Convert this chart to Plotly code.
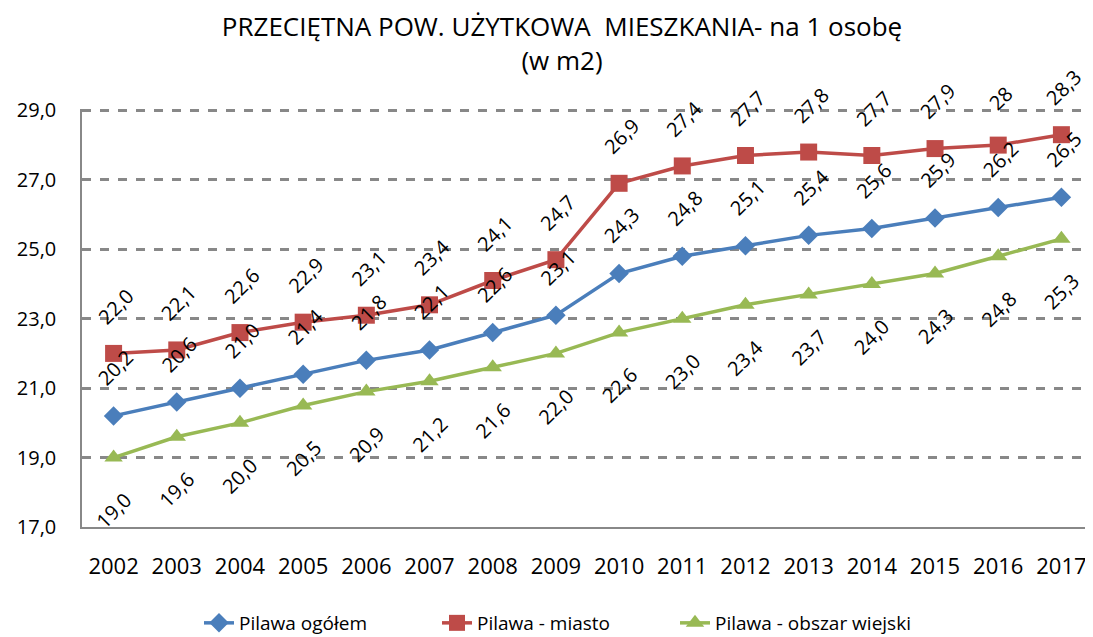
import plotly.graph_objects as go

years = list(range(2002, 2018))
ogolem = [20.2, 20.6, 21.0, 21.4, 21.8, 22.1, 22.6, 23.1, 24.3, 24.8, 25.1, 25.4, 25.6, 25.9, 26.2, 26.5]
miasto = [22.0, 22.1, 22.6, 22.9, 23.1, 23.4, 24.1, 24.7, 26.9, 27.4, 27.7, 27.8, 27.7, 27.9, 28.0, 28.3]
wiejski = [19.0, 19.6, 20.0, 20.5, 20.9, 21.2, 21.6, 22.0, 22.6, 23.0, 23.4, 23.7, 24.0, 24.3, 24.8, 25.3]
miasto_labels = ["22,0", "22,1", "22,6", "22,9", "23,1", "23,4", "24,1", "24,7", "26,9", "27,4", "27,7", "27,8", "27,7", "27,9", "28", "28,3"]
y_ticks = [17, 19, 21, 23, 25, 27, 29]

names = ["Pilawa ogółem", "Pilawa - miasto", "Pilawa - obszar wiejski"]
colors = ["#4a7ebb", "#be4b48", "#98b954"]
symbols = ["diamond", "square", "triangle-up"]
sizes = [15, 17, 16]
series = [ogolem, miasto, wiejski]

FONT = "Open Sans, DejaVu Sans, sans-serif"
W, H = 1085, 629  # page body has an 8px margin inside the 1093x637 window

fig = go.Figure()
for vals, name, col, sym, sz in zip(series, names, colors, symbols, sizes):
    fig.add_trace(go.Scatter(
        x=years, y=vals, name=name, mode="lines+markers",
        line=dict(color=col, width=3.5),
        marker=dict(symbol=sym, size=sz, color=col),
    ))

def fmt(v):
    return f"{v:.1f}".replace(".", ",")

annotations = []
label_font = dict(family=FONT, size=20, color="#000000")
for x, v, t in zip(years, miasto, miasto_labels):
    annotations.append(dict(x=x, y=v, xref="x", yref="y", text=t, showarrow=False,
                            textangle=-45, xshift=2, yshift=47, font=label_font))
for x, v in zip(years, ogolem):
    annotations.append(dict(x=x, y=v, xref="x", yref="y", text=fmt(v), showarrow=False,
                            textangle=-45, xshift=2, yshift=48, font=label_font))
for x, v in zip(years, wiejski):
    annotations.append(dict(x=x, y=v, xref="x", yref="y", text=fmt(v), showarrow=False,
                            textangle=-45, xshift=0, yshift=-53, font=label_font))

fig.update_layout(
    width=W, height=H,
    margin=dict(l=74, r=0, t=101, b=110, autoexpand=False),
    plot_bgcolor="white", paper_bgcolor="white",
    separators=", ",
    font=dict(family=FONT, color="#000000"),
    title=dict(text="PRZECIĘTNA POW. UŻYTKOWA  MIESZKANIA- na 1 osobę<br>(w m2)",
               x=554 / W, xanchor="center", y=1 - 28 / H, yanchor="top",
               font=dict(size=26, color="#000000")),
    xaxis=dict(range=[2001.5, 2017.5], tickmode="array", tickvals=years,
               ticktext=[str(y) for y in years], showgrid=False,
               showline=True, linecolor="#888888", linewidth=1.5,
               ticks="", ticklabelstandoff=19, tickfont=dict(size=22), fixedrange=True),
    yaxis=dict(range=[17, 29.04], tickmode="array", tickvals=y_ticks,
               tickformat=".1f",
               showgrid=True, gridcolor="#888888", griddash="dash", gridwidth=2.5,
               showline=True, linecolor="#888888", linewidth=1.5,
               zeroline=False, ticks="", ticklabelstandoff=20, tickfont=dict(size=20)),
    legend=dict(orientation="h", x=(191 - 74) / 1011, xanchor="left",
                y=-(615 - 519) / 418, yanchor="middle",
                font=dict(size=19), entrywidth=193, entrywidthmode="pixels"),
    annotations=annotations,
    showlegend=True,
)

fig.write_html("out.html")
